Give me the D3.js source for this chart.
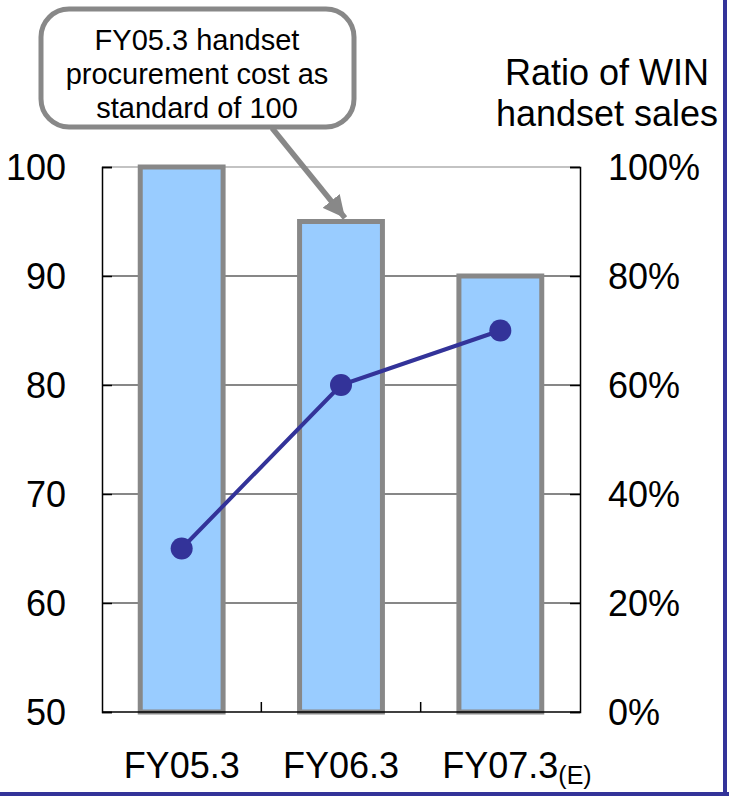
<!DOCTYPE html>
<meta charset="utf-8">
<style>
body { margin: 0; background: #fff; }
svg text { font-family: "Liberation Sans", Arial, sans-serif; fill: #000; }
</style>
<body>
<svg width="729" height="796"></svg>
<script src="https://cdn.jsdelivr.net/npm/d3@7"></script>
<script>
// data
var categories = ["FY05.3", "FY06.3", "FY07.3"];
var catSuffix = ["", "", "(E)"];
var costIndex = [100, 95, 90];          // bars, left axis
var winRatio = [0.30, 0.60, 0.70];      // line, right axis
var leftTicks = [50, 60, 70, 80, 90, 100];
var rightTicks = [0, 0.2, 0.4, 0.6, 0.8, 1.0];
var calloutLines = ["FY05.3 handset", "procurement cost as", "standard of 100"];
var rightTitle = ["Ratio of WIN", "handset sales"];

var svg = d3.select("svg");
var m = {left: 102, right: 580, top: 167, bottom: 712};

var x = d3.scaleBand().domain(categories).range([m.left, m.right])
    .paddingInner(0.48).paddingOuter(0.24);
var y = d3.scaleLinear().domain([50, 100]).range([m.bottom, m.top]);
var y2 = d3.scaleLinear().domain([0, 1]).range([m.bottom, m.top]);

// frame (right + bottom blue border)
svg.append("line").attr("x1", 725).attr("x2", 725).attr("y1", 0).attr("y2", 796)
    .attr("stroke", "#333399").attr("stroke-width", 4);
svg.append("line").attr("x1", 0).attr("x2", 729).attr("y1", 794).attr("y2", 794)
    .attr("stroke", "#333399").attr("stroke-width", 4);

// gridlines
svg.append("g").selectAll("line")
  .data(leftTicks.filter(function(d) { return d > 50; }))
  .enter().append("line")
    .attr("x1", m.left).attr("x2", m.right)
    .attr("y1", function(d) { return y(d); })
    .attr("y2", function(d) { return y(d); })
    .attr("stroke", function(d) { return d == 100 ? "#888" : "#111"; })
    .attr("stroke-width", 1.2);

// left axis
var ga = svg.append("g").attr("transform", "translate(" + m.left + ",0)")
    .call(d3.axisLeft(y).tickValues(leftTicks).tickSize(-10).tickPadding(36));
ga.select(".domain").attr("stroke", "#000").attr("stroke-width", 1.5);
ga.selectAll(".tick line").attr("stroke", "#000").attr("stroke-width", 1.5);
ga.selectAll("text").style("font-size", "36px").style("font-family", "Liberation Sans, Arial, sans-serif")
    .attr("fill", "#000").attr("dy", "0.36em");

// right axis
var gb = svg.append("g").attr("transform", "translate(" + m.right + ",0)")
    .call(d3.axisRight(y2).tickValues(rightTicks).tickSize(-10)
      .tickPadding(28).tickFormat(d3.format(".0%")));
gb.select(".domain").attr("stroke", "#000").attr("stroke-width", 1.5);
gb.selectAll(".tick line").attr("stroke", "#000").attr("stroke-width", 1.5);
gb.selectAll("text").style("font-size", "36px").style("font-family", "Liberation Sans, Arial, sans-serif")
    .attr("fill", "#000").attr("dy", "0.36em");

// bars
svg.append("g").selectAll("rect")
  .data(costIndex)
  .enter().append("rect")
    .attr("x", function(d, i) { return x(categories[i]); })
    .attr("y", function(d) { return y(d); })
    .attr("width", x.bandwidth())
    .attr("height", function(d) { return y(50) - y(d); })
    .attr("fill", "#99ccff")
    .attr("stroke", "#888888")
    .attr("stroke-width", 5);

// bottom axis
svg.append("line").attr("x1", m.left).attr("x2", m.right)
    .attr("y1", m.bottom).attr("y2", m.bottom)
    .attr("stroke", "#000").attr("stroke-width", 1.5);
svg.append("g").selectAll("line")
  .data(categories.slice(1))
  .enter().append("line")
    .attr("x1", function(d) { return x(d) - x.step() * x.paddingInner() / 2; })
    .attr("x2", function(d) { return x(d) - x.step() * x.paddingInner() / 2; })
    .attr("y1", m.bottom).attr("y2", m.bottom - 10)
    .attr("stroke", "#000").attr("stroke-width", 1.5);

// category labels
categories.forEach(function(c, i) {
  var cx = x(c) + x.bandwidth() / 2;
  var t = svg.append("text").attr("y", 778).style("font-size", "36px");
  t.append("tspan").text(c);
  var w = t.node().getComputedTextLength();
  t.attr("x", cx - w / 2);
  if (catSuffix[i]) {
    t.append("tspan").attr("dy", 6).style("font-size", "25px").text(catSuffix[i]);
  }
});

// line series
var pts = winRatio.map(function(d, i) {
  return [x(categories[i]) + x.bandwidth() / 2, y2(d)];
});
svg.append("path").attr("d", d3.line()(pts))
    .attr("fill", "none").attr("stroke", "#333399").attr("stroke-width", 4);
svg.append("g").selectAll("circle")
  .data(pts)
  .enter().append("circle")
    .attr("cx", function(d) { return d[0]; })
    .attr("cy", function(d) { return d[1]; })
    .attr("r", 11)
    .attr("fill", "#333399");

// right axis title
svg.append("g").selectAll("text")
  .data(rightTitle)
  .enter().append("text")
    .attr("x", 607).attr("y", function(d, i) { return 85 + i * 41; })
    .attr("text-anchor", "middle").style("font-size", "36px")
    .text(function(d) { return d; });

// callout arrow
svg.append("defs").append("marker")
    .attr("id", "ah").attr("viewBox", "0 0 10 10")
    .attr("refX", 10).attr("refY", 5)
    .attr("markerWidth", 4).attr("markerHeight", 4)
    .attr("markerUnits", "strokeWidth")
    .attr("orient", "auto")
  .append("path").attr("d", "M0,0L10,5L0,10z").attr("fill", "#888");
svg.append("line").attr("x1", 272).attr("y1", 128).attr("x2", 345).attr("y2", 218)
    .attr("stroke", "#888").attr("stroke-width", 5.5)
    .attr("marker-end", "url(#ah)");

// callout box
svg.append("rect").attr("x", 41).attr("y", 9).attr("width", 313).attr("height", 118)
    .attr("rx", 28).attr("ry", 28)
    .attr("fill", "#fff").attr("stroke", "#888").attr("stroke-width", 5);
svg.append("g").selectAll("text")
  .data(calloutLines)
  .enter().append("text")
    .attr("x", 197).attr("y", function(d, i) { return 50 + i * 34; })
    .attr("text-anchor", "middle").style("font-size", "29px")
    .text(function(d) { return d; });
</script>
</body>
